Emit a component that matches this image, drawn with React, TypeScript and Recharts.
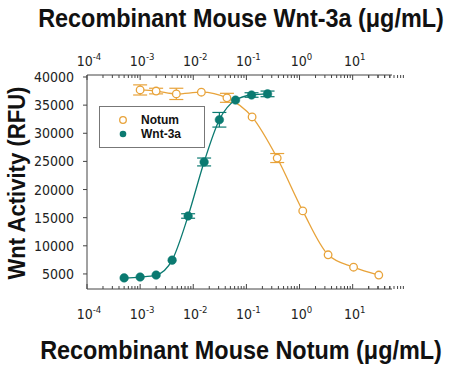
import React from "react";
import {
  LineChart,
  Line,
  XAxis,
  YAxis,
  ErrorBar,
  Legend,
} from "recharts";

// Notum titration (µg/mL) vs Wnt activity
const notumConc = [0.001, 0.002, 0.0048, 0.0142, 0.043, 0.128, 0.38, 1.15, 3.45, 10.4, 31];
const notumRfu = [37700, 37500, 37000, 37300, 36300, 32900, 25600, 16200, 8400, 6200, 4800];
const notumErr = [900, 500, 1000, null, 800, null, 800, null, null, null, null];

// Wnt-3a titration (µg/mL)
const wntConc = [0.0005, 0.001, 0.002, 0.004, 0.008, 0.016, 0.031, 0.0625, 0.125, 0.25];
const wntRfu = [4300, 4450, 4800, 7450, 15300, 24900, 32400, 35900, 36800, 37000];
const wntErr = [null, null, null, null, 400, 700, 1300, null, 400, 500];

const yTicks = [5000, 10000, 15000, 20000, 25000, 30000, 35000, 40000];
const decades = [-4, -3, -2, -1, 0, 1];

const ORANGE = "#E8A33A";
const TEAL = "#0B7A71";
const AXIS = "#444";
const NARROW = "'Liberation Sans Narrow', 'DejaVu Sans Condensed', 'Arial Narrow', sans-serif";
const BOLD = "'Liberation Sans', Arial, sans-serif";

const xTicks: number[] = [];
decades.forEach((d) => {
  for (let m = 1; m <= 9; m++) xTicks.push(m * Math.pow(10, d));
});
xTicks.push(20, 30, 40, 50);

const notumData = notumConc.map((x, i) => ({ x, y: notumRfu[i], err: notumErr[i] }));
const wntData = wntConc.map((x, i) => ({ x, y: wntRfu[i], err: wntErr[i] }));

const isMajor = (v: number) => {
  const l = Math.log10(v);
  return Math.abs(l - Math.round(l)) < 1e-6;
};

const makeTick = (top: boolean) => (props: any) => {
  const { x, y, payload } = props;
  const major = isMajor(payload.value);
  const len = major ? 5 : 3;
  const dir = top ? 1 : -1;
  return (
    <g>
      <line x1={x} x2={x} y1={y} y2={y + dir * len} stroke={AXIS} strokeWidth={1} />
      {major && (
        <text
          x={x + 2}
          y={top ? y - 9 : y + 30}
          textAnchor="middle"
          fontFamily={NARROW}
          fontSize={14}
          fill="#222"
        >
          10
          <tspan dy={-6} fontSize={9.5}>
            {Math.round(Math.log10(payload.value))}
          </tspan>
        </text>
      )}
    </g>
  );
};

const LegendBox = () => (
  <div
    style={{
      width: 106,
      height: 42,
      border: "1px solid #777",
      background: "#fff",
      boxSizing: "border-box",
    }}
  >
    <svg width={104} height={40}>
      <circle cx={23} cy={13} r={3.3} fill="#fff" stroke={ORANGE} strokeWidth={1.3} />
      <text x={41} y={17} fontFamily={BOLD} fontWeight="bold" fontSize={12} fill="#111">
        Notum
      </text>
      <circle cx={23} cy={27} r={3.3} fill={TEAL} />
      <text x={41} y={31} fontFamily={BOLD} fontWeight="bold" fontSize={12} fill="#111">
        Wnt-3a
      </text>
    </svg>
  </div>
);

const titleStyle: React.CSSProperties = {
  position: "absolute",
  left: 0,
  width: 482,
  textAlign: "center",
  fontFamily: BOLD,
  fontWeight: "bold",
  fontSize: 26,
  lineHeight: "30px",
  color: "#111",
  whiteSpace: "nowrap",
  transform: "scaleX(0.9)",
};

export default function App() {
  return (
    <div style={{ position: "absolute", left: 0, top: 0, width: 450, height: 365, background: "#fff" }}>
      <div style={{ ...titleStyle, top: 3 }}>Recombinant Mouse Wnt-3a (μg/mL)</div>
      <div style={{ ...titleStyle, top: 335 }}>Recombinant Mouse Notum (μg/mL)</div>
      <div
        style={{
          position: "absolute",
          left: 17 - 120,
          top: 183 - 14,
          width: 240,
          height: 28,
          lineHeight: "28px",
          textAlign: "center",
          transform: "rotate(-90deg) scaleX(0.92)",
          fontFamily: BOLD,
          fontWeight: "bold",
          fontSize: 24,
          color: "#111",
          whiteSpace: "nowrap",
        }}
      >
        Wnt Activity (RFU)
      </div>
      <LineChart
        width={450}
        height={365}
        margin={{ top: 45, right: 58, bottom: 46, left: 27 }}
        style={{ position: "absolute", left: 0, top: 0 }}
      >
        <XAxis
          xAxisId="top"
          orientation="top"
          type="number"
          scale="log"
          dataKey="x"
          domain={[0.0001, 55]}
          allowDataOverflow
          ticks={xTicks}
          interval={0}
          height={30}
          tickSize={0}
          tickMargin={0}
          tickLine={false}
          tick={makeTick(true)}
          axisLine={{ stroke: AXIS }}
        />
        <XAxis
          xAxisId="bottom"
          orientation="bottom"
          type="number"
          scale="log"
          dataKey="x"
          domain={[0.0001, 55]}
          allowDataOverflow
          ticks={xTicks}
          interval={0}
          height={30}
          tickSize={0}
          tickMargin={0}
          tickLine={false}
          tick={makeTick(false)}
          axisLine={{ stroke: AXIS }}
        />
        <YAxis
          type="number"
          domain={[2325, 40355]}
          allowDataOverflow
          ticks={yTicks}
          interval={0}
          width={60}
          tickSize={4}
          tickMargin={9}
          tick={{ fontFamily: NARROW, fontSize: 14, fill: "#222" }}
          tickLine={{ stroke: AXIS }}
          axisLine={{ stroke: AXIS }}
        />
        <Legend
          layout="vertical"
          align="center"
          verticalAlign="middle"
          content={() => <LegendBox />}
          wrapperStyle={{ left: 99, top: 106, width: 106, height: 42 }}
        />
        <Line
          xAxisId="bottom"
          data={notumData}
          dataKey="y"
          name="Notum"
          type="monotone"
          stroke={ORANGE}
          strokeWidth={1.3}
          dot={{ r: 3.8, fill: "#fff", stroke: ORANGE, strokeWidth: 1.3 }}
          isAnimationActive={false}
        >
          <ErrorBar dataKey="err" direction="y" width={7} stroke={ORANGE} strokeWidth={1.2} />
        </Line>
        <Line
          xAxisId="bottom"
          data={wntData}
          dataKey="y"
          name="Wnt-3a"
          type="monotone"
          stroke={TEAL}
          strokeWidth={1.3}
          dot={{ r: 4.3, fill: TEAL, stroke: TEAL, strokeWidth: 0.5 }}
          isAnimationActive={false}
        >
          <ErrorBar dataKey="err" direction="y" width={7} stroke={TEAL} strokeWidth={1.2} />
        </Line>
      </LineChart>
    </div>
  );
}
